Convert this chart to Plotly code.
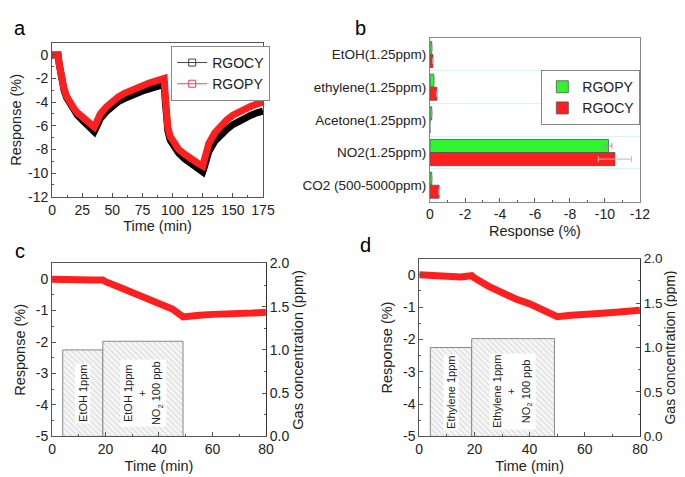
import plotly.graph_objects as go

# ---- panel a: response vs time ----
t_a = [0, 5, 6, 7, 8, 10, 12, 15, 18, 21, 25, 30, 35, 36, 37, 40, 45, 50, 55, 60, 65, 70, 75, 80, 85, 90,
       93, 94, 95, 96, 98, 100, 105, 110, 115, 120, 125, 126, 127, 130, 135, 140, 145, 150, 155, 160, 165, 170, 175]
rgocy_a = [0, 0, -0.8, -1.6, -2.2, -3.0, -3.6, -4.2, -4.7, -5.1, -5.5, -6.0, -6.5, -6.3, -6.0, -5.4, -4.8, -4.3,
           -3.95, -3.7, -3.45, -3.25, -3.05, -2.9, -2.75, -2.6, -2.5, -4.0, -5.6, -6.4, -7.2, -7.6, -8.3, -8.8,
           -9.2, -9.55, -9.9, -9.6, -9.1, -8.2, -7.3, -6.7, -6.3, -5.9, -5.6, -5.35, -5.1, -4.9, -4.75]
rgopy_a = [0, 0, -0.8, -1.6, -2.2, -2.9, -3.5, -4.1, -4.5, -4.9, -5.3, -5.7, -6.1, -5.9, -5.6, -5.0, -4.4, -3.9,
           -3.55, -3.25, -3.0, -2.8, -2.6, -2.4, -2.25, -2.1, -2.0, -3.6, -5.2, -6.1, -6.9, -7.3, -8.0, -8.4,
           -8.8, -9.1, -9.4, -9.0, -8.4, -7.5, -6.6, -6.0, -5.5, -5.1, -4.8, -4.55, -4.35, -4.15, -4.0]

# ---- panel b: response to gases ----
gases = ["EtOH(1.25ppm)", "ethylene(1.25ppm)", "Acetone(1.25ppm)", "NO2(1.25ppm)", "CO2 (500-5000ppm)"]
rgopy_b = [-0.1, -0.22, -0.1, -10.2, -0.1]
rgocy_b = [-0.17, -0.4, 0, -10.57, -0.52]
rgopy_err = [0, 0, 0, 0.2, 0]
rgocy_err = [0, 0, 0, 0.95, 0]

# ---- panels c, d: mixed gas ----
t_c = [0, 5, 10, 15, 19, 20, 25, 30, 35, 40, 45, 49, 50, 55, 60, 65, 70, 75, 80]
resp_c = [0, -0.02, -0.05, -0.03, -0.03, -0.08, -0.25, -0.43, -0.57, -0.75, -0.95, -1.2, -1.2, -1.15, -1.12,
          -1.12, -1.1, -1.08, -1.05]
t_d = [0, 5, 10, 15, 19, 20, 25, 30, 35, 40, 45, 49, 50, 55, 60, 65, 70, 75, 80]
resp_d = [0, -0.02, -0.03, -0.07, -0.03, -0.1, -0.35, -0.58, -0.75, -0.9, -1.1, -1.3, -1.3, -1.25, -1.2, -1.2,
          -1.17, -1.13, -1.1]
gas_start = [4, 19]
gas_end = [19, 49]
gas_conc = [1.0, 1.1]
labels_c = ["EtOH 1ppm", "EtOH 1ppm<br>+<br>NO<sub>2</sub> 100 ppb"]
labels_d = ["Ethylene 1ppm", "Ethylene 1ppm<br>+<br>NO<sub>2</sub> 100 ppb"]

FONT = "Arial, Liberation Sans, sans-serif"
RED = "#ff1f1f"
GREEN = "#2ef52e"

fig = go.Figure()

# panel a
fig.add_trace(go.Scatter(x=t_a, y=rgocy_a, mode="lines", line=dict(color="black", width=7),
                         showlegend=False, xaxis="x", yaxis="y"))
fig.add_trace(go.Scatter(x=t_a, y=rgopy_a, mode="lines", line=dict(color=RED, width=7),
                         showlegend=False, xaxis="x", yaxis="y"))
fig.add_trace(go.Scatter(x=[None], y=[None], mode="lines+markers", name="RGOCY",
                         line=dict(color="#444", width=1),
                         marker=dict(symbol="square-open", size=7, color="#444"),
                         legend="legend", xaxis="x", yaxis="y"))
fig.add_trace(go.Scatter(x=[None], y=[None], mode="lines+markers", name="RGOPY",
                         line=dict(color="#f04050", width=1),
                         marker=dict(symbol="square-open", size=7, color="#f04050"),
                         legend="legend", xaxis="x", yaxis="y"))

# panel b
fig.add_trace(go.Bar(y=gases, x=rgopy_b, orientation="h", name="RGOPY",
                     marker=dict(color=GREEN, line=dict(color="#555", width=0.8)),
                     error_x=dict(type="data", array=rgopy_err, color="#999", thickness=1, width=3),
                     legend="legend2", xaxis="x2", yaxis="y2"))
fig.add_trace(go.Bar(y=gases, x=rgocy_b, orientation="h", name="RGOCY",
                     marker=dict(color=RED, line=dict(color="#555", width=0.8)),
                     error_x=dict(type="data", array=rgocy_err, color="#bbb", thickness=1, width=3),
                     legend="legend2", xaxis="x2", yaxis="y2"))

# panels c and d: gas concentration boxes + response line
gas_mid = [(s + e) / 2 for s, e in zip(gas_start, gas_end)]
gas_w = [e - s for s, e in zip(gas_start, gas_end)]
for xa, ya, yb, tt, rr in [("x3", "y3", "y4", t_c, resp_c), ("x4", "y5", "y6", t_d, resp_d)]:
    fig.add_trace(go.Bar(x=gas_mid, y=gas_conc, width=gas_w, showlegend=False,
                         marker=dict(color="#f6f6f6", line=dict(color="#888", width=1),
                                     pattern=dict(shape="\\", fgcolor="#b8b8b8", size=4, solidity=0.25)),
                         xaxis=xa, yaxis=yb))
    fig.add_trace(go.Scatter(x=tt, y=rr, mode="lines", line=dict(color=RED, width=7),
                             showlegend=False, xaxis=xa, yaxis=ya))

ann = []
for xa, yb, labs in [("x3", "y4", labels_c), ("x4", "y6", labels_d)]:
    for i, lab in enumerate(labs):
        ann.append(dict(x=gas_mid[i], y=0.5, xref=xa, yref=yb, text=lab, textangle=-90,
                        showarrow=False, bgcolor="white", font=dict(size=11, color="#222", family=FONT)))
for txt, px, py in [("a", 8, 12), ("b", 357, 12), ("c", 8, 243), ("d", 362, 237)]:
    ann.append(dict(x=px / 685, y=1 - py / 477, xref="paper", yref="paper", text=txt, showarrow=False,
                    xanchor="center", yanchor="middle", font=dict(size=20, color="black", family=FONT)))

tick = dict(size=14, color="#222", family=FONT)
title_font = dict(size=14.5, color="#222", family=FONT)


def nums(lo, hi, step, fmt="{:g}"):
    vals = []
    v = lo
    while v <= hi + 1e-9:
        vals.append(round(v, 6))
        v += step
    return vals, [fmt.format(x).replace("\u2212", "-") for x in vals]


def ax(lo, hi, step, minor, fmt="{:g}", **kw):
    tv, tt = nums(lo, hi, step, fmt)
    base = dict(showline=True, linecolor="#555", linewidth=1, mirror=True, ticks="inside", ticklen=4,
                tickcolor="#555", tickfont=tick, showgrid=False, zeroline=False,
                tickvals=tv, ticktext=tt,
                minor=dict(ticks="inside", ticklen=2, tickcolor="#555", dtick=minor, tick0=0))
    base.update(kw)
    return base


fig.update_layout(
    width=685, height=477, margin=dict(l=0, r=0, t=0, b=0),
    paper_bgcolor="white", plot_bgcolor="white", font=dict(family=FONT),
    bargap=0.2, barmode="group",
    xaxis=ax(0, 175, 25, 12.5, domain=[41 / 685, 257 / 685], anchor="y", range=[0, 175],
             title=dict(text="Time (min)", font=title_font, standoff=2)),
    yaxis=ax(-12, 0, 2, 1, domain=[1 - 187 / 477, 1 - 28 / 477], anchor="x", range=[-12, 1],
             title=dict(text="Response (%)", font=title_font, standoff=4)),
    xaxis2=ax(-12, 0, 2, 1, domain=[428 / 685, 643 / 685], anchor="y2", range=[0, -12], linecolor="#888",
              title=dict(text="Response (%)", font=title_font, standoff=4)),
    yaxis2=dict(domain=[1 - 192 / 477, 1 - 23 / 477], anchor="x2", autorange="reversed",
                tickson="boundaries", showgrid=True, gridcolor="#d8f4f4", ticks="", showline=True,
                linecolor="#888", mirror=True, tickfont=dict(size=13.5, color="#222", family=FONT)),
    xaxis3=ax(0, 80, 20, 10, domain=[41 / 685, 260 / 685], anchor="y3", range=[0, 80],
              title=dict(text="Time (min)", font=title_font, standoff=4)),
    yaxis3=ax(-5, 0, 1, 0.5, domain=[1 - 435 / 477, 1 - 256 / 477], anchor="x3", range=[-5, 0.5],
              mirror=False, title=dict(text="Response (%)", font=title_font, standoff=6)),
    yaxis4=ax(0, 2, 0.5, 0.25, "{:.1f}", domain=[1 - 435 / 477, 1 - 256 / 477], anchor="x3",
              overlaying="y3", side="right", range=[0, 2], mirror=False, linecolor="#333",
              title=dict(text="Gas concentration (ppm)", font=title_font, standoff=4)),
    xaxis4=ax(0, 80, 20, 10, domain=[417 / 685, 643 / 685], anchor="y5", range=[0, 80],
              title=dict(text="Time (min)", font=title_font, standoff=4)),
    yaxis5=ax(-5, 0, 1, 0.5, domain=[1 - 435 / 477, 1 - 251 / 477], anchor="x4", range=[-5, 0.5],
              mirror=False, title=dict(text="Response (%)", font=title_font, standoff=6)),
    yaxis6=ax(0, 2, 0.5, 0.25, "{:.1f}", domain=[1 - 435 / 477, 1 - 251 / 477], anchor="x4",
              overlaying="y5", side="right", range=[0, 2], mirror=False, linecolor="#333",
              tickfont=dict(size=13.5, color="#222", family=FONT),
              title=dict(text="Gas concentration (ppm)", font=dict(size=14, color="#222", family=FONT),
                         standoff=0)),
    legend=dict(x=163 / 685, y=1 - 31 / 477, xanchor="left", yanchor="top", bgcolor="white",
                bordercolor="#888", borderwidth=1, font=dict(size=14, color="#222", family=FONT),
                tracegroupgap=0, itemwidth=30),
    legend2=dict(x=542 / 685, y=1 - 56 / 477, xanchor="left", yanchor="top", bgcolor="white",
                 bordercolor="#888", borderwidth=1, font=dict(size=14, color="#222", family=FONT),
                 tracegroupgap=0, itemwidth=30),
    annotations=ann,
)

fig.write_html("out.html")
